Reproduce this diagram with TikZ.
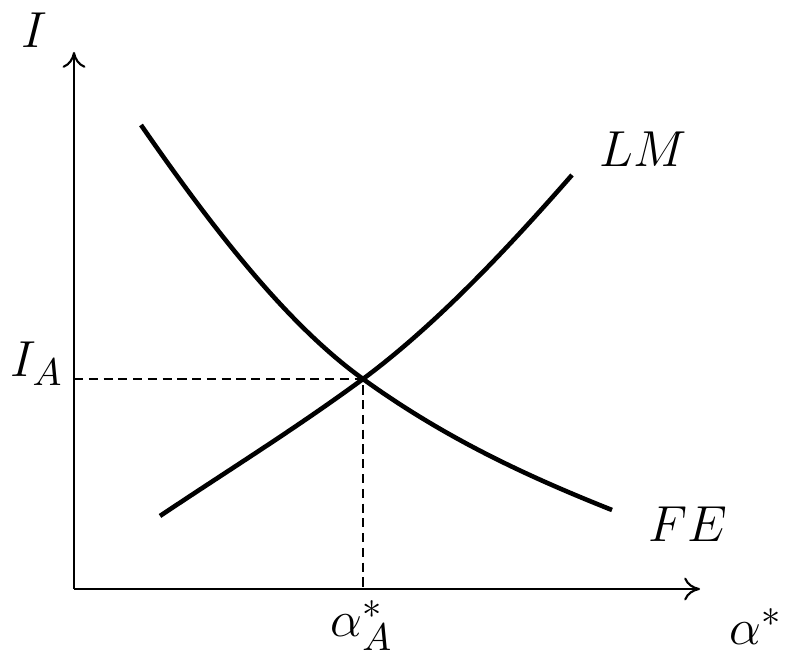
\documentclass[tikz,border=0pt]{standalone}
\usetikzlibrary{arrows.meta}
\begin{document}
\begin{tikzpicture}[x=0.01cm,y=-0.01cm,
  axis/.style={line width=0.6pt,-{To[length=4.5pt,width=6.5pt]}},
  curve/.style={line width=1.3pt},
  guide/.style={line width=0.6pt,dash pattern=on 2.6pt off 1.6pt},
  lbl/.style={inner sep=0pt,anchor=base,font=\fontsize{15.5}{18}\selectfont}]
\useasboundingbox (0,0) rectangle (785,662);
\coordinate (O) at (74,589);
\coordinate (ytop) at (74,52);
\coordinate (xend) at (700,589);
\coordinate (E) at (363,379);
\coordinate (Ey) at (74,379);
\coordinate (Ex) at (363,589);
\draw[axis] (O) -- (ytop);
\draw[axis] (O) -- (xend);
\draw[guide] (Ey) -- (E) -- (Ex);
\draw[curve] (141,125) .. controls (215,232) and (289,326) .. (E) .. controls (446,439) and (529,477) .. (612,510);
\draw[curve] (160,516) .. controls (228,470.4) and (295,429) .. (E) .. controls (433,327) and (502,255) .. (572,175);
\node[lbl] (lI) at (34,48) {$I$};
\node[lbl] (lIA) at (37,377) {$I_A$};
\node[lbl] (laA) at (362,637) {$\alpha^*_A$};
\node[lbl] (la) at (756,645) {$\alpha^*$};
\node[lbl] (lLM) at (643,167) {$LM$};
\node[lbl] (lFE) at (688,542) {$FE$};
\end{tikzpicture}
\end{document}
